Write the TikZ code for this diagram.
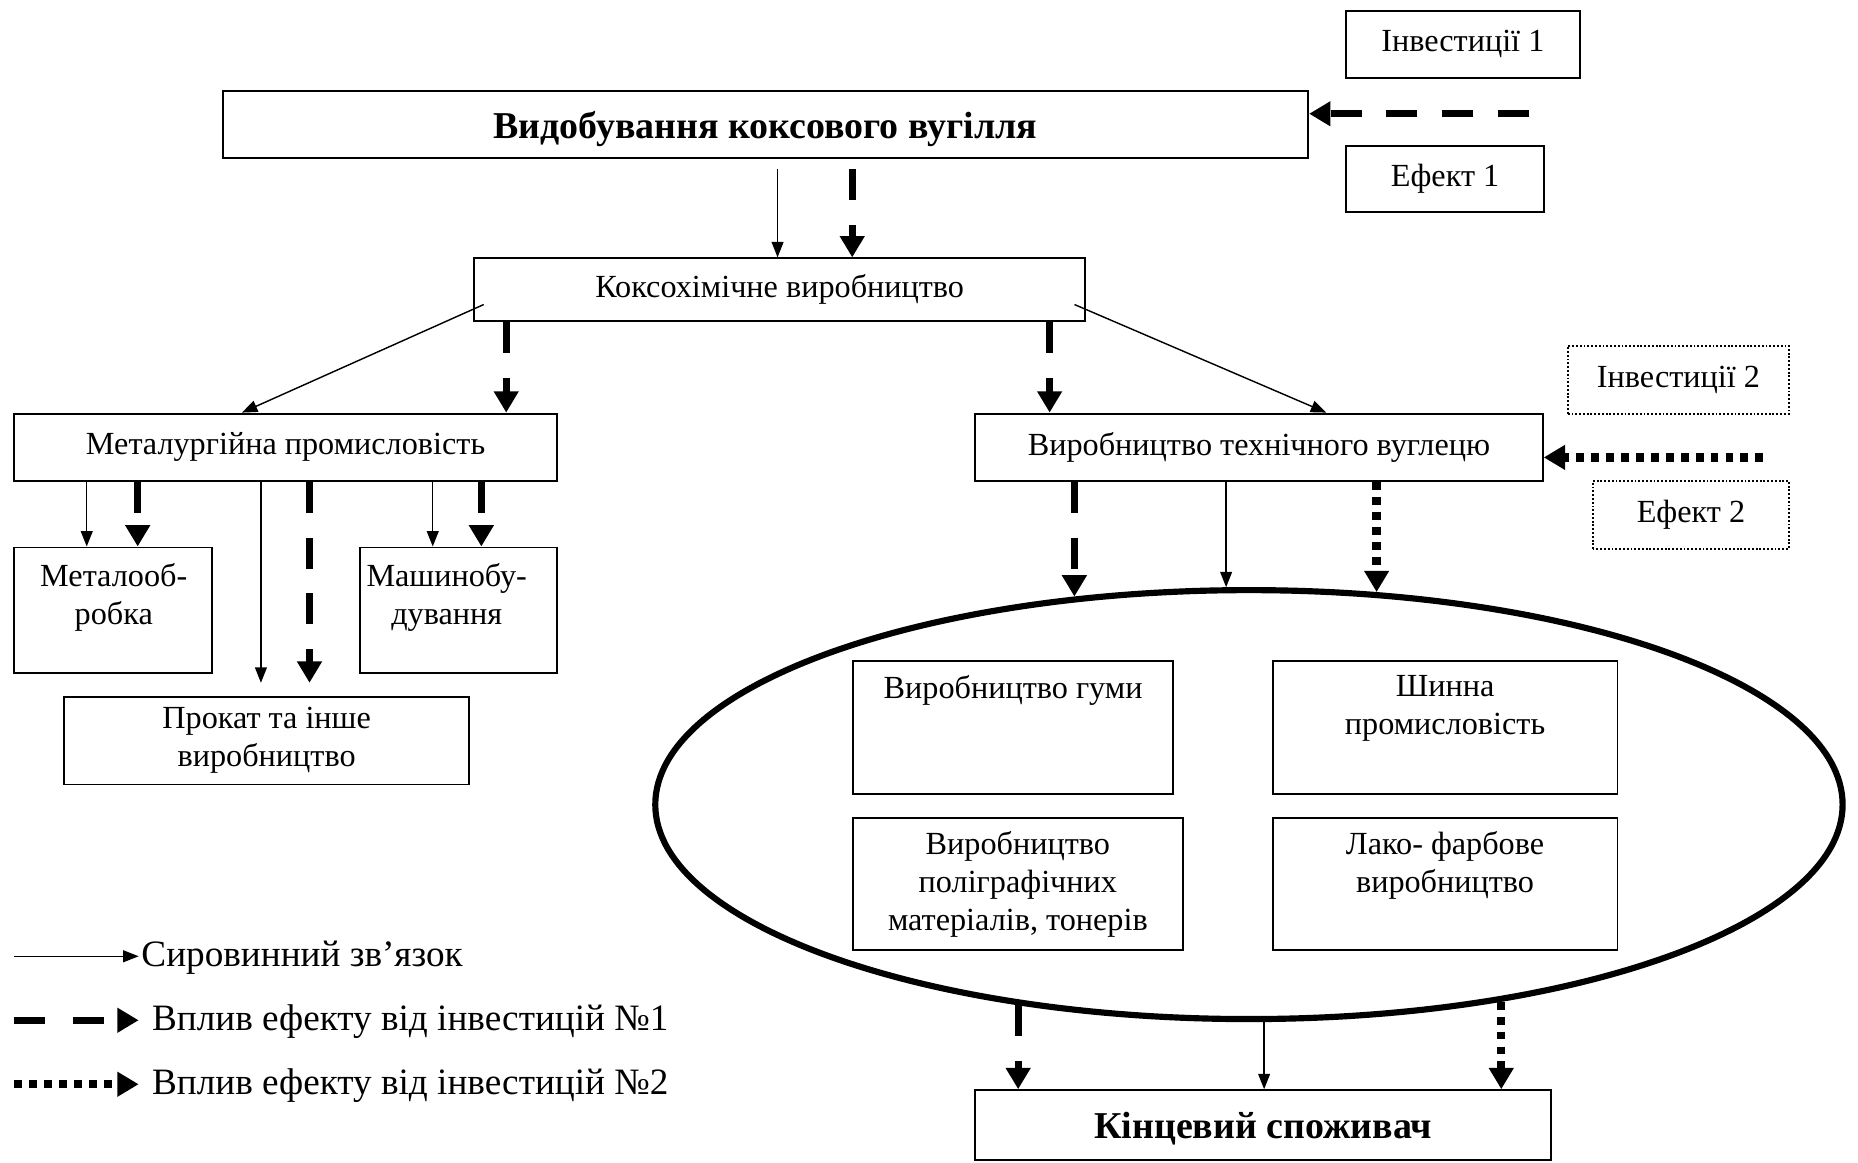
\documentclass[tikz,border=0pt]{standalone}
\usepackage{fontspec}
\setmainfont{Liberation Serif}
\usetikzlibrary{arrows.meta,shapes.geometric}

\tikzset{
  box/.style={draw, line width=0.8pt, inner sep=0pt, align=center, font=\fontsize{13.6}{16}\selectfont},
  dotbox/.style={box, dash pattern=on 0.8pt off 0.8pt},
  txt/.style={inner sep=0pt, align=center, font=\fontsize{13.6}{16}\selectfont},
  title/.style={font=\fontsize{16}{18}\selectfont\bfseries, text depth=0pt},
  legtxt/.style={inner sep=0pt, anchor=west, font=\fontsize{15.7}{18}\selectfont},
  rawlink/.style={line width=0.6pt, -{Triangle[length=6.5pt,width=5pt]}},
  effone/.style={line width=3pt, dash pattern=on 13pt off 10.5pt, -{Triangle[length=9pt,width=10pt]}},
  efftwo/.style={line width=3.5pt, dash pattern=on 3.3pt off 3pt, -{Triangle[length=9pt,width=10pt]}},
}

\begin{document}
\begin{tikzpicture}[x=0.5pt, y=-0.5pt]
\useasboundingbox (0,0) rectangle (1568,981);

% --- top level: coal mining and investment 1 ---
\node[box, title, minimum width=458pt, minimum height=28pt] (mine) at (646,105) {Видобування коксового вугілля};
\node[box, minimum width=98.5pt, minimum height=28.5pt] (inv1) at (1234.5,37.5) {Інвестиції 1};
\node[box, minimum width=83.5pt, minimum height=28pt] (eff1) at (1219.5,151) {Ефект 1};
\coordinate (src1) at (1290,96);
\draw[effone] (src1) -- ([yshift=4.5pt]mine.east);

% --- coke chemistry ---
\node[box, minimum width=258pt, minimum height=26.5pt] (coke) at (658,244.5) {Коксохімічне виробництво};
\draw[rawlink] ([xshift=234.5pt,yshift=-4.5pt]mine.south west) -- ([xshift=234.5pt]mine.south west |- coke.north);
\draw[effone] ([xshift=266pt,yshift=-4.5pt]mine.south west) -- ([xshift=266pt]mine.south west |- coke.north);

% --- second level ---
\node[box, minimum width=229pt, minimum height=28.5pt] (metal) at (241,377.5) {Металургійна промисловість};
\node[box, minimum width=239.5pt, minimum height=28.5pt] (carbon) at (1062.5,377.5) {Виробництво технічного вуглецю};
\node[dotbox, minimum width=93.5pt, minimum height=28.5pt] (inv2) at (1416.5,320.5) {Інвестиції 2};
\node[dotbox, minimum width=83pt, minimum height=28.5pt] (eff2) at (1427,434.5) {Ефект 2};
\coordinate (src2) at (1488,386);
\draw[efftwo] (src2) -- ([yshift=-4.25pt]carbon.east);

\draw[rawlink] ([xshift=4.5pt,yshift=-6.25pt]coke.west) -- ([xshift=96.5pt]metal.north west);
\draw[rawlink] ([xshift=-5pt,yshift=-6.25pt]coke.east) -- ([xshift=148.5pt]carbon.north west);
\draw[effone] ([xshift=14pt]coke.south west) -- ([xshift=14pt]coke.south west |- metal.north);
\draw[effone] ([xshift=-15.5pt]coke.south east) -- ([xshift=-15.5pt]coke.south east |- carbon.north);

% --- metallurgy branch ---
\node[box, minimum width=83.5pt, minimum height=53pt] (mwork) at (95.5,515) {};
\node[txt] (mworkt) at (96,504) {Металооб-\\робка};
\node[box, minimum width=83pt, minimum height=53pt] (mach) at (387,515) {};
\node[txt] (macht) at (377,504) {Машинобу-\\дування};
\node[box, minimum width=171pt, minimum height=37pt] (rolled) at (225,625) {Прокат та інше\\виробництво};
\coordinate (rtop) at ([yshift=5.5pt]rolled.north);

\draw[rawlink] ([xshift=31pt]metal.south west) -- ([xshift=31pt]metal.south west |- mwork.north);
\draw[effone] ([xshift=52.5pt]metal.south west) -- ([xshift=52.5pt]metal.south west |- mwork.north);
\draw[rawlink] ([xshift=104.5pt]metal.south west) -- ([xshift=104.5pt]metal.south west |- rtop);
\draw[effone] ([xshift=125pt]metal.south west) -- ([xshift=125pt]metal.south west |- rtop);
\draw[rawlink] ([xshift=177pt]metal.south west) -- ([xshift=177pt]metal.south west |- mach.north);
\draw[effone] ([xshift=197.5pt]metal.south west) -- ([xshift=197.5pt]metal.south west |- mach.north);

% --- carbon black consumers ---
\node[draw, ellipse, line width=2.6pt, inner sep=0pt, minimum width=501pt, minimum height=181pt] (cluster) at (1054,679) {};
\draw[effone] (cluster.130.4 |- carbon.south) -- (cluster.130.4);
\draw[rawlink] (cluster.96.9 |- carbon.south) -- (cluster.96.9);
\draw[efftwo] (cluster.59.8 |- carbon.south) -- (cluster.59.8);

\node[box, minimum width=135pt, minimum height=56pt] (rubber) at (855,614) {};
\node[txt] (rubbert) at (855,583) {Виробництво гуми};
\node[box, minimum width=145.5pt, minimum height=56pt] (tyre) at (1219.5,614) {};
\node[txt] (tyret) at (1219.5,598) {Шинна\\промисловість};
\node[box, minimum width=139pt, minimum height=56pt] (print) at (859,746) {Виробництво\\поліграфічних\\матеріалів, тонерів};
\node[box, minimum width=145.5pt, minimum height=56pt] (paint) at (1219.5,746) {};
\node[txt] (paintt) at (1219.5,730) {Лако- фарбове\\виробництво};

% --- end consumer ---
\node[box, title, minimum width=243pt, minimum height=29.5pt] (final) at (1066,949.5) {Кінцевий споживач};
\draw[effone] (cluster.221.2) -- (cluster.221.2 |- final.north);
\draw[rawlink] (cluster.274.1) -- (cluster.274.1 |- final.north);
\draw[efftwo] (cluster.322.6) -- (cluster.322.6 |- final.north);

% --- legend ---
\coordinate (la1) at (12,807);  \coordinate (lb1) at (117,807);
\coordinate (la2) at (12,861);  \coordinate (lb2) at (117,861);
\coordinate (la3) at (12,915);  \coordinate (lb3) at (117,915);
\draw[rawlink] (la1) -- (lb1);
\draw[effone, dash pattern=on 13pt off 12pt] (la2) -- (lb2);
\draw[efftwo] (la3) -- (lb3);
\node[legtxt] (lt1) at (119,808) {Сировинний зв’язок};
\node[legtxt] (lt2) at (128,862) {Вплив ефекту від інвестицій №1};
\node[legtxt] (lt3) at (128,916) {Вплив ефекту від інвестицій №2};
\end{tikzpicture}
\end{document}
